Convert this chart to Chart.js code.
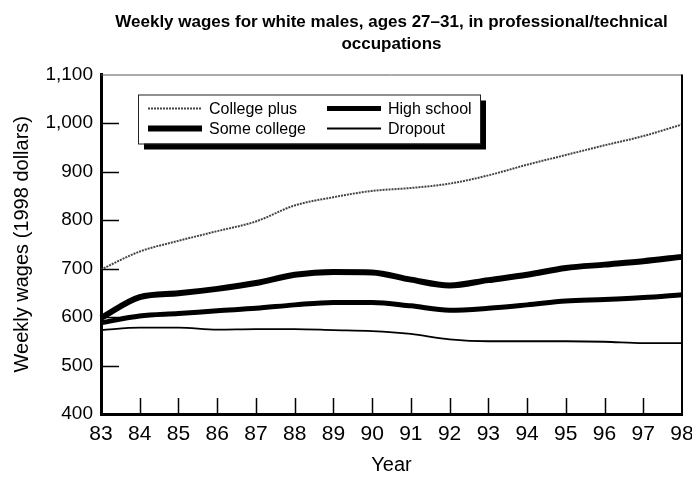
<!DOCTYPE html>
<html>
<head>
<meta charset="utf-8">
<script src="https://cdn.jsdelivr.net/npm/chart.js@4/dist/chart.umd.min.js"></script>
<style>
  html, body { margin: 0; padding: 0; background: #fff; }
  #wrap { width: 692px; height: 477px; }
</style>
</head>
<body>
<div id="wrap"><canvas id="myChart" width="692" height="477"></canvas></div>
<script>
"use strict";

// years along the x-axis
var years = ['83','84','85','86','87','88','89','90','91','92','93','94','95','96','97','98'];

// weekly wages, 1998 dollars
var collegePlus = [698, 735, 757, 777, 797, 830, 847, 860, 866, 875, 892, 914, 934, 954, 973, 997];
var highSchool  = [588, 602, 607, 613, 618, 625, 630, 630, 623, 614, 618, 625, 633, 636, 640, 646];
var someCollege = [598, 641, 649, 658, 670, 687, 693, 692, 677, 665, 676, 687, 701, 708, 715, 724];
var dropout     = [573, 578, 578, 574, 575, 575, 573, 571, 565, 554, 550, 550, 550, 549, 546, 546];

var yTicks = [400, 500, 600, 700, 800, 900, 1000, 1100];

// frame lines on top/right, inward tick marks and the boxed legend with a shadow
var framePlugin = {
	id: 'frame',
	afterDatasetsDraw: function (chart) {
		var ctx = chart.ctx;
		var a = chart.chartArea;
		var xs = chart.scales.x;
		var ys = chart.scales.y;
		ctx.save();
		// top + right border
		ctx.lineWidth = 1;
		ctx.strokeStyle = '#555';
		ctx.beginPath();
		ctx.moveTo(a.left, a.top + 0.5);
		ctx.lineTo(a.right, a.top + 0.5);
		ctx.stroke();
		ctx.strokeStyle = '#000';
		ctx.lineWidth = 2;
		ctx.beginPath();
		ctx.moveTo(a.right, a.top);
		ctx.lineTo(a.right, a.bottom);
		ctx.stroke();
		// inward ticks
		ctx.lineWidth = 1.5;
		for (var i = 1; i < yTicks.length - 1; i++) {
			var py = Math.round(ys.getPixelForValue(yTicks[i])) + 0.5;
			ctx.beginPath();
			ctx.moveTo(a.left, py);
			ctx.lineTo(a.left + 18, py);
			ctx.stroke();
		}
		for (var j = 1; j < years.length - 1; j++) {
			var px = Math.round(xs.getPixelForValue(j)) + 0.5;
			ctx.beginPath();
			ctx.moveTo(px, a.bottom);
			ctx.lineTo(px, a.bottom - 16);
			ctx.stroke();
		}
		// legend box
		var bx = a.left + 37, by = a.top + 20, bw = 342, bh = 49;
		ctx.fillStyle = '#000';
		ctx.fillRect(bx + 6, by + 6, bw, bh);
		ctx.fillStyle = '#fff';
		ctx.fillRect(bx, by, bw, bh);
		ctx.lineWidth = 1;
		ctx.strokeStyle = '#222';
		ctx.strokeRect(bx + 0.5, by + 0.5, bw, bh);
		ctx.font = '16px "Liberation Sans", Arial, sans-serif';
		ctx.textBaseline = 'middle';
		ctx.textAlign = 'left';
		var ds = chart.data.datasets;
		for (var k = 0; k < ds.length; k++) {
			var col = k % 2, row = Math.floor(k / 2);
			var lx = bx + 10 + col * 179;
			var ly = by + 14 + row * 20;
			ctx.strokeStyle = ds[k].borderColor;
			ctx.lineWidth = ds[k].borderWidth;
			ctx.setLineDash(ds[k].borderDash || []);
			ctx.beginPath();
			ctx.moveTo(lx, ly);
			ctx.lineTo(lx + 54, ly);
			ctx.stroke();
			ctx.setLineDash([]);
			ctx.fillStyle = '#000';
			ctx.fillText(ds[k].label, lx + 61, ly + 1);
		}
		ctx.restore();
	}
};

function buildChart() {
	var ctx = document.getElementById('myChart');
	var myChart = new Chart(ctx, {
		type: 'line',
		data: {
			labels: years,
			datasets: [
				{ label: 'College plus', data: collegePlus, borderColor: '#444', borderWidth: 2, borderDash: [2, 1] },
				{ label: 'High school', data: highSchool, borderColor: '#000', borderWidth: 5 },
				{ label: 'Some college', data: someCollege, borderColor: '#000', borderWidth: 6 },
				{ label: 'Dropout', data: dropout, borderColor: '#000', borderWidth: 1.8 }
			]
		},
		options: {
			responsive: false,
			animation: false,
			layout: { padding: { left: 0, right: 0, top: 0, bottom: 0 } },
			elements: {
				point: { radius: 0 },
				line: { cubicInterpolationMode: 'monotone', fill: false }
			},
			plugins: {
				legend: { display: false },
				tooltip: { enabled: false },
				title: {
					display: true,
					fullSize: false,
					text: ['Weekly wages for white males, ages 27\u201331, in professional/technical', 'occupations'],
					color: '#000',
					font: { family: '"Liberation Sans", Arial, sans-serif', size: 17, weight: 'bold', lineHeight: 1.25 },
					padding: { top: 12, bottom: 20 }
				}
			},
			scales: {
				x: {
					grid: { display: false, drawTicks: false },
					border: { color: '#000', width: 3 },
					ticks: { color: '#000', font: { family: '"Liberation Sans", Arial, sans-serif', size: 21 }, padding: 8, autoSkip: false, maxRotation: 0 },
					title: { display: true, text: 'Year', color: '#000', font: { family: '"Liberation Sans", Arial, sans-serif', size: 20 }, padding: { top: 0, bottom: 0 } },
					afterFit: function (scale) {
						scale.height = 63;
						scale.paddingLeft = 0;
						scale.paddingRight = 10;
					}
				},
				y: {
					min: 400,
					max: 1100,
					grid: { display: false, drawTicks: false },
					border: { color: '#000', width: 3 },
					afterBuildTicks: function (scale) {
						scale.ticks = yTicks.map(function (v) { return { value: v }; });
					},
					ticks: { color: '#000', font: { family: '"Liberation Sans", Arial, sans-serif', size: 19 }, padding: 8 },
					title: { display: true, text: 'Weekly wages (1998 dollars)', color: '#000', font: { family: '"Liberation Sans", Arial, sans-serif', size: 20 }, padding: { top: 10, bottom: 0 } },
					afterFit: function (scale) { scale.width = 101; }
				}
			}
		},
		plugins: [framePlugin]
	});
}

buildChart();
</script>
</body>
</html>
